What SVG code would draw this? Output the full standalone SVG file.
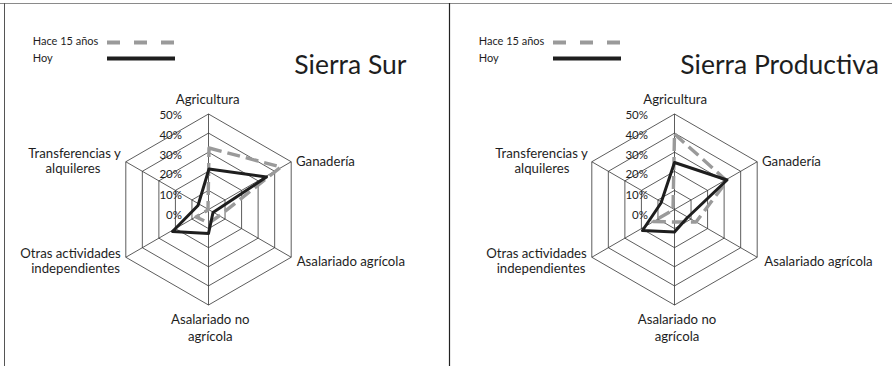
<svg xmlns="http://www.w3.org/2000/svg" xmlns:xlink="http://www.w3.org/1999/xlink" width="892" height="366" viewBox="0 0 892 366">
  <style>
    text { font-family: "Lato", "Liberation Sans", sans-serif; fill: #1e1e1e; }
    .cat { font-size: 13.2px; }
    .tick { font-size: 11.5px; text-anchor: end; }
    .leg { font-size: 11px; }
    .title { font-size: 26.5px; }
    .mid { text-anchor: middle; }
    .grid { fill: none; stroke: #333; stroke-width: 0.8; }
    .old { fill: none; stroke: #9a9a9a; stroke-width: 3.4; stroke-dasharray: 13 6; stroke-linejoin: round; }
    .now { fill: none; stroke: #1e1e1e; stroke-width: 3; stroke-linejoin: round; }
    .frame { fill: none; }
  </style>
  <defs>
    <g id="radar-grid" class="grid">
      <polygon points="0,-19.1 16.54,-9.55 16.54,9.55 0,19.1 -16.54,9.55 -16.54,-9.55"/>
      <polygon points="0,-38.2 33.08,-19.1 33.08,19.1 0,38.2 -33.08,19.1 -33.08,-19.1"/>
      <polygon points="0,-57.3 49.62,-28.65 49.62,28.65 0,57.3 -49.62,28.65 -49.62,-28.65"/>
      <polygon points="0,-76.4 66.16,-38.2 66.16,38.2 0,76.4 -66.16,38.2 -66.16,-38.2"/>
      <polygon points="0,-95.5 82.7,-47.75 82.7,47.75 0,95.5 -82.7,47.75 -82.7,-47.75"/>
      <path d="M0,0 V-95.5 M0,0 L82.7,-47.75 M0,0 L82.7,47.75 M0,0 V95.5 M0,0 L-82.7,47.75 M0,0 L-82.7,-47.75"/>
    </g>
  </defs>

  <g id="frame" class="frame">
    <line x1="0" y1="3.5" x2="892" y2="3.5" stroke="#8a8a8a" stroke-width="1"/>
    <line x1="4.5" y1="3" x2="4.5" y2="366" stroke="#555" stroke-width="1"/>
    <line x1="449.5" y1="3" x2="449.5" y2="366" stroke="#222" stroke-width="1.2"/>
  </g>

  <!-- Left panel: Sierra Sur -->
  <g id="legend-left">
    <text class="leg" x="32.7" y="44.5">Hace 15 años</text>
    <text class="leg" x="32.7" y="62">Hoy</text>
    <line x1="107" y1="42.5" x2="175" y2="42.5" stroke="#9a9a9a" stroke-width="4" stroke-dasharray="13 14"/>
    <line x1="107" y1="58.5" x2="175" y2="58.5" stroke="#1e1e1e" stroke-width="4"/>
  </g>
  <g id="title-left">
    <text class="title" x="294.3" y="74">Sierra Sur</text>
  </g>
  <g id="chart-left">
    <use xlink:href="#radar-grid" href="#radar-grid" x="208.5" y="209.5"/>
    <g id="ticks-left">
      <text class="tick" x="182" y="119">50%</text>
      <text class="tick" x="182" y="139">40%</text>
      <text class="tick" x="182" y="159">30%</text>
      <text class="tick" x="182" y="178">20%</text>
      <text class="tick" x="182" y="198.7">10%</text>
      <text class="tick" x="182" y="218.7">0%</text>
    </g>
    <g id="labels-left">
      <text class="cat mid" x="207.7" y="104">Agricultura</text>
      <text class="cat" x="296" y="166">Ganadería</text>
      <text class="cat" x="296.7" y="265.5">Asalariado agrícola</text>
      <text class="cat mid" x="210.3" y="324">Asalariado no</text>
      <text class="cat mid" x="210.3" y="341">agrícola</text>
      <text class="cat mid" x="70.5" y="257.5">Otras actividades</text>
      <text class="cat mid" x="75.5" y="273">independientes</text>
      <text class="cat mid" x="74.5" y="157.5">Transferencias y</text>
      <text class="cat mid" x="73" y="173">alquileres</text>
    </g>
    <g id="series-left">
      <polygon class="old" points="209,148 281,167 219,216 209,223 196,217 208,210"/>
      <polygon class="now" points="209,169 266.5,177 213,212.5 208.5,233.5 172.5,231.5 198,205.5"/>
    </g>
  </g>

  <!-- Right panel: Sierra Productiva -->
  <g id="legend-right">
    <text class="leg" x="478.7" y="44.5">Hace 15 años</text>
    <text class="leg" x="478.7" y="62">Hoy</text>
    <line x1="553" y1="42.5" x2="621" y2="42.5" stroke="#9a9a9a" stroke-width="4" stroke-dasharray="13 14"/>
    <line x1="553" y1="58.5" x2="621" y2="58.5" stroke="#1e1e1e" stroke-width="4"/>
  </g>
  <g id="title-right">
    <text class="title" x="680.3" y="74">Sierra Productiva</text>
  </g>
  <g id="chart-right">
    <use xlink:href="#radar-grid" href="#radar-grid" x="674.5" y="209.5"/>
    <g id="ticks-right">
      <text class="tick" x="648" y="119">50%</text>
      <text class="tick" x="648" y="139">40%</text>
      <text class="tick" x="648" y="159">30%</text>
      <text class="tick" x="648" y="178">20%</text>
      <text class="tick" x="648" y="198.7">10%</text>
      <text class="tick" x="648" y="218.7">0%</text>
    </g>
    <g id="labels-right">
      <text class="cat mid" x="675.2" y="104">Agricultura</text>
      <text class="cat" x="762" y="166">Ganadería</text>
      <text class="cat" x="764.3" y="265.5">Asalariado agrícola</text>
      <text class="cat mid" x="677" y="324">Asalariado no</text>
      <text class="cat mid" x="677" y="341">agrícola</text>
      <text class="cat mid" x="536.5" y="257.5">Otras actividades</text>
      <text class="cat mid" x="541" y="273">independientes</text>
      <text class="cat mid" x="541.5" y="157.5">Transferencias y</text>
      <text class="cat mid" x="542" y="173">alquileres</text>
    </g>
    <g id="series-right">
      <polygon class="old" points="674.5,134 727,181 696,222 674.5,222 653,221.5 673,210"/>
      <polygon class="now" points="674.5,162.5 727,180 687,218 674.5,232 642.5,230.5 661,203"/>
    </g>
  </g>
</svg>
